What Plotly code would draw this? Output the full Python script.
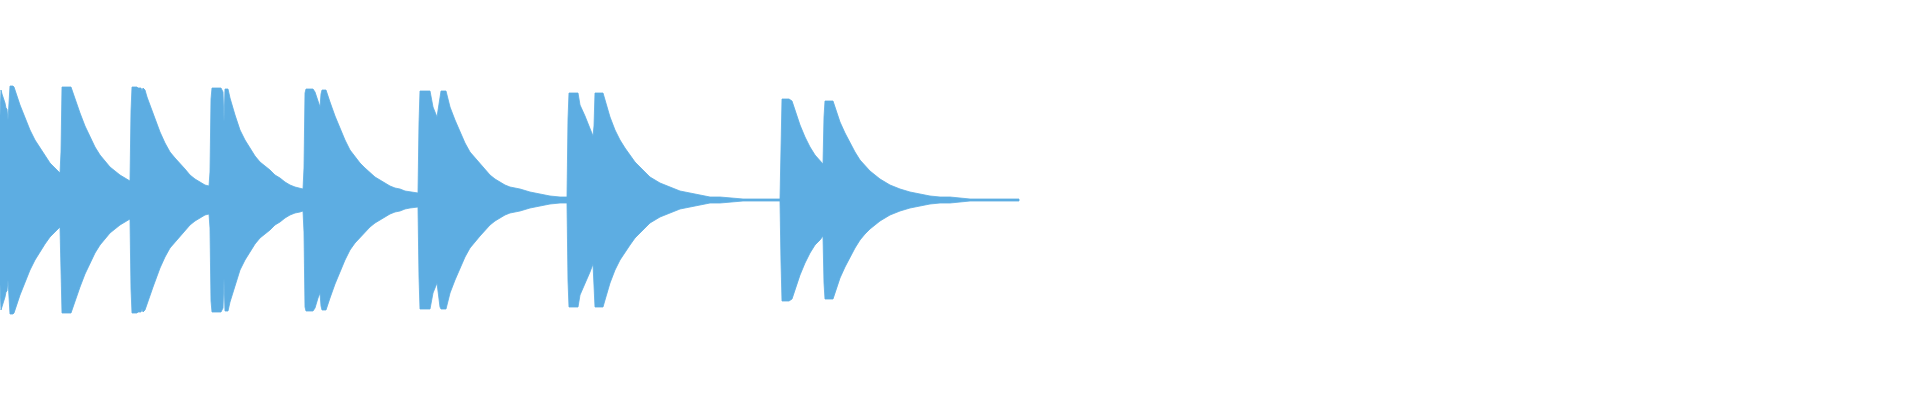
import plotly.graph_objects as go

# Envelope of the waveform (time in ms, peak amplitude, symmetric about 0)
time_ms = [
    0, 1, 2, 3, 4, 5, 6, 7, 8, 9, 10, 13, 14, 20, 25, 30, 35, 40, 45, 50, 55, 60,
    61, 62, 71, 72, 75, 80, 85, 90, 95, 100, 105, 110, 115, 120, 125, 130,
    131, 132, 137, 138, 141, 142, 143, 145, 147, 150, 153, 160, 165, 170, 175, 180, 185, 190, 195, 200, 205, 209,
    210, 211, 212, 221, 222, 223, 224, 225, 228, 230, 235, 240, 245, 250, 255, 260, 265, 270, 275, 280, 285, 290, 295, 300, 303,
    304, 305, 306, 313, 315, 318, 320, 321, 322, 326, 328, 330, 335, 340, 345, 350, 355, 360, 365, 370, 375, 380, 385, 390, 395, 400, 405, 410, 418,
    419, 420, 430, 433, 437, 440, 441, 446, 450, 455, 460, 465, 470, 475, 480, 485, 490, 495, 500, 505, 510, 520, 530, 540, 550, 560, 567,
    568, 569, 578, 580, 585, 590, 593, 594, 595, 603, 605, 610, 615, 620, 625, 630, 635, 640, 645, 650, 655, 660, 665, 670, 680, 690, 700, 710, 720, 730, 743, 780,
    781, 782, 789, 792, 795, 800, 805, 810, 815, 820, 823, 824, 825, 833, 835, 840, 845, 850, 855, 860, 865, 870, 875, 880, 885, 890, 900, 910, 920, 930, 940, 950, 960, 970, 985, 1019,
]
envelope = [
    0.42, 0.55, 0.53, 0.515, 0.505, 0.485, 0.46, 0.455, 0.40, 0.495, 0.57, 0.57, 0.565, 0.475, 0.41, 0.35, 0.30, 0.26, 0.22, 0.185, 0.16, 0.135,
    0.24, 0.565, 0.565, 0.55, 0.51, 0.435, 0.37, 0.315, 0.265, 0.225, 0.195, 0.165, 0.145, 0.125, 0.11, 0.095,
    0.445, 0.565, 0.565, 0.56, 0.56, 0.545, 0.56, 0.55, 0.515, 0.475, 0.435, 0.34, 0.285, 0.24, 0.21, 0.185, 0.155, 0.125, 0.105, 0.09, 0.075, 0.07,
    0.14, 0.505, 0.56, 0.56, 0.55, 0.54, 0.39, 0.555, 0.555, 0.51, 0.425, 0.35, 0.30, 0.26, 0.22, 0.19, 0.17, 0.15, 0.125, 0.11, 0.09, 0.075, 0.065, 0.06, 0.055,
    0.16, 0.535, 0.555, 0.555, 0.54, 0.49, 0.465, 0.53, 0.55, 0.55, 0.525, 0.49, 0.42, 0.36, 0.30, 0.25, 0.215, 0.185, 0.16, 0.135, 0.115, 0.10, 0.085, 0.07, 0.06, 0.055, 0.045, 0.04, 0.035,
    0.385, 0.545, 0.545, 0.465, 0.415, 0.535, 0.545, 0.545, 0.465, 0.40, 0.34, 0.285, 0.24, 0.21, 0.18, 0.15, 0.125, 0.105, 0.09, 0.075, 0.065, 0.055, 0.04, 0.03, 0.02, 0.015, 0.015,
    0.405, 0.535, 0.535, 0.475, 0.42, 0.36, 0.32, 0.37, 0.535, 0.535, 0.50, 0.415, 0.35, 0.30, 0.26, 0.225, 0.19, 0.165, 0.14, 0.115, 0.10, 0.085, 0.075, 0.065, 0.045, 0.035, 0.025, 0.015, 0.015, 0.01, 0.005, 0.005,
    0.31, 0.505, 0.505, 0.495, 0.45, 0.375, 0.315, 0.265, 0.225, 0.20, 0.18, 0.415, 0.495, 0.495, 0.465, 0.39, 0.335, 0.285, 0.24, 0.20, 0.17, 0.145, 0.125, 0.105, 0.09, 0.075, 0.055, 0.04, 0.03, 0.02, 0.015, 0.015, 0.01, 0.005, 0.005, 0.005,
]

x_poly = time_ms + time_ms[::-1]
y_poly = envelope + [-v for v in envelope[::-1]]

fig = go.Figure(
    go.Scatter(
        x=x_poly,
        y=y_poly,
        mode="lines",
        fill="toself",
        fillcolor="#5DADE2",
        line=dict(color="#5DADE2", width=0.8),
        hoverinfo="skip",
    )
)
fig.update_layout(
    width=1920,
    height=400,
    margin=dict(l=0, r=0, t=0, b=0),
    paper_bgcolor="white",
    plot_bgcolor="white",
    showlegend=False,
    xaxis=dict(range=[0, 1920], visible=False, showgrid=False, zeroline=False),
    yaxis=dict(range=[-1, 1], visible=False, showgrid=False, zeroline=False),
)
fig.write_html(
    "out.html",
    config={"displayModeBar": False, "staticPlot": True},
    post_script="document.body.style.margin='0px';document.body.style.overflow='hidden';",
)
